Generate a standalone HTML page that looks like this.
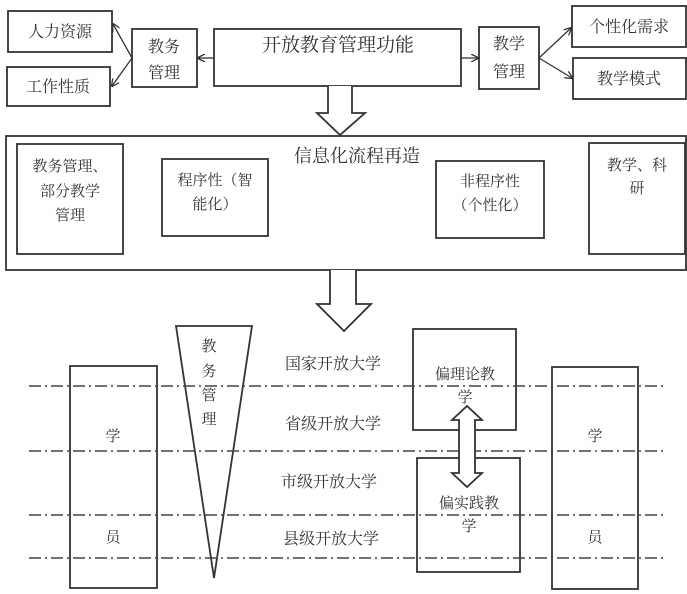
<!DOCTYPE html>
<html><head><meta charset="utf-8"><style>
html,body{margin:0;padding:0;background:#fff}
svg{display:block}
text{font-family:"Liberation Serif","Noto Serif CJK SC",serif;fill:#333}
</style></head><body>
<svg width="687" height="594" viewBox="0 0 687 594" xmlns="http://www.w3.org/2000/svg">
<defs><marker id="ah" markerWidth="8" markerHeight="8" refX="7" refY="4" orient="auto" markerUnits="userSpaceOnUse"><path d="M0,0 L8,4 L0,8" fill="none" stroke="#333" stroke-width="1.3"/></marker></defs>
<g fill="none" stroke="#333" stroke-width="1.8">
<rect x="8" y="11" width="104" height="41"/>
<rect x="7" y="67" width="103" height="39"/>
<rect x="132" y="29" width="65" height="58"/>
<rect x="214" y="29" width="247" height="57"/>
<rect x="479" y="27" width="60" height="62"/>
<rect x="572" y="6" width="114" height="41"/>
<rect x="573" y="58" width="113" height="41"/>
<rect x="6" y="136" width="680" height="134"/>
<rect x="17" y="144" width="106" height="110"/>
<rect x="162" y="159" width="106" height="77"/>
<rect x="436" y="161" width="108" height="77"/>
<rect x="589" y="143" width="96" height="111"/>
<path d="M328,86 V113 H317 L340,135 L365,113 H352 V86" fill="#fff"/>
<path d="M330,270 V304 H317 L344,331 L371,304 H356 V270" fill="#fff"/>
<path d="M176,326 H252 L214,578 Z"/>
<rect x="70" y="366" width="87" height="222"/>
<rect x="552" y="367" width="86" height="222"/>
<rect x="413" y="329" width="103" height="101"/>
<rect x="417" y="458" width="103" height="114"/>
</g>
<g stroke="#333" stroke-width="1.3" fill="none">
<line x1="132" y1="58" x2="113" y2="24" marker-end="url(#ah)"/>
<line x1="132" y1="58" x2="112" y2="86" marker-end="url(#ah)"/>
<line x1="214" y1="58" x2="198" y2="58" marker-end="url(#ah)"/>
<line x1="461" y1="58" x2="478" y2="58" marker-end="url(#ah)"/>
<line x1="539" y1="58" x2="571" y2="28" marker-end="url(#ah)"/>
<line x1="539" y1="58" x2="572" y2="78" marker-end="url(#ah)"/>
</g>
<g stroke="#444" stroke-width="1.6" stroke-dasharray="12,4,2,4">
<line x1="29" y1="386" x2="667" y2="386"/>
<line x1="29" y1="451" x2="667" y2="451"/>
<line x1="29" y1="515" x2="667" y2="515"/>
<line x1="29" y1="558" x2="667" y2="558"/>
</g>
<path d="M459,420 H452 L467,406 L482,420 H475 V473 H482 L467,487 L452,473 H459 Z" fill="#fff" stroke="#333" stroke-width="1.8"/>
<g font-size="16" text-anchor="middle">
<text x="60" y="37">人力资源</text>
<text x="58" y="92">工作性质</text>
<text x="164" y="52">教务</text>
<text x="164" y="78">管理</text>
<text x="338" y="51" font-size="19">开放教育管理功能</text>
<text x="509" y="49">教学</text>
<text x="509" y="77">管理</text>
<text x="629" y="32">个性化需求</text>
<text x="629" y="84">教学模式</text>
<text x="357" y="162" font-size="18">信息化流程再造</text>
</g>
<g font-size="15" text-anchor="middle">
<text x="70" y="171">教务管理、</text>
<text x="70" y="196">部分教学</text>
<text x="70" y="220">管理</text>
<text x="215" y="185">程序性（智</text>
<text x="215" y="209">能化）</text>
<text x="490" y="186">非程序性</text>
<text x="490" y="210">（个性化）</text>
<text x="637" y="170">教学、科</text>
<text x="637" y="193">研</text>
<text x="209" y="351">教</text>
<text x="209" y="376">务</text>
<text x="209" y="400">管</text>
<text x="209" y="424">理</text>
<text x="113" y="441">学</text>
<text x="113" y="542">员</text>
<text x="595" y="441">学</text>
<text x="595" y="542">员</text>
<text x="333" y="369" font-size="16">国家开放大学</text>
<text x="333" y="429" font-size="16">省级开放大学</text>
<text x="329" y="487" font-size="16">市级开放大学</text>
<text x="331" y="544" font-size="16">县级开放大学</text>
<text x="465" y="379">偏理论教</text>
<text x="465" y="402">学</text>
<text x="469" y="508">偏实践教</text>
<text x="469" y="531">学</text>
</g>
</svg>
</body></html>
